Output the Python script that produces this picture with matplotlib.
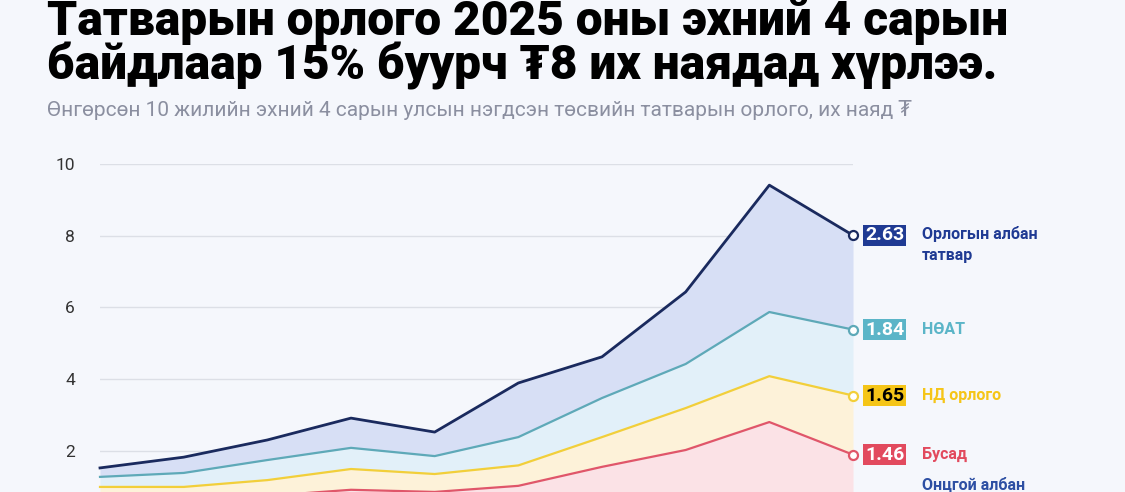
import matplotlib.pyplot as plt
import numpy as np

plt.rcParams['font.family'] = ['Roboto', 'DejaVu Sans']

# их наяд төгрөг, эхний 4 сар
years = np.arange(2016, 2026)
excise = [0.30, 0.30, 0.33, 0.38, 0.35, 0.40, 0.45, 0.50, 0.55, 0.43]
busad = [0.38, 0.38, 0.41, 0.53, 0.50, 0.62, 1.10, 1.52, 2.25, 1.46]
nd_orlogo = [0.31, 0.31, 0.44, 0.58, 0.50, 0.57, 0.83, 1.17, 1.28, 1.65]
noat = [0.28, 0.39, 0.56, 0.59, 0.50, 0.79, 1.09, 1.23, 1.79, 1.84]
orlogyn = [0.25, 0.44, 0.56, 0.83, 0.67, 1.51, 1.15, 2.01, 3.54, 2.63]

layers = [
    ('Онцгой албан', excise, '#2d4fa3', '#e6ebf8', '#2d4fa3'),
    ('Бусад', busad, '#e0566a', '#fbe2e6', '#e24a5e'),
    ('НД орлого', nd_orlogo, '#f2cf3a', '#fdf2d9', '#f5c518'),
    ('НӨАТ', noat, '#5ea9b8', '#e2f0f9', '#5bb5c8'),
    ('Орлогын албан\nтатвар', orlogyn, '#1a2a5e', '#d7dff5', '#1f3a93'),
]

bg = '#f5f7fc'
fig = plt.figure(figsize=(11.25, 4.92), dpi=100, facecolor=bg)
ax = fig.add_axes([100 / 1125, -30.4 / 492, 753 / 1125, 358.4 / 492])
ax.set_facecolor(bg)

base = np.zeros(len(years))
for name, vals, lc, fc, bc in layers:
    top = base + np.array(vals)
    ax.fill_between(years, base, top, color=fc, lw=0, zorder=1)
    base = top

base = np.zeros(len(years))
for i, (name, vals, lc, fc, bc) in enumerate(layers):
    top = base + np.array(vals)
    lw = 2.0 if i == 4 else 1.6
    ax.plot(years, top, color=lc, lw=lw, zorder=3, clip_on=False)
    ax.plot(years[-1], top[-1], 'o', ms=6.5, mfc='white', mec=lc, mew=1.6,
            zorder=4, clip_on=False)
    ytxt = top[-1] if i > 0 else 1.05
    if i > 0:
        tcol = 'black' if i == 2 else 'white'
        ax.annotate('%.2f' % vals[-1], xy=(years[-1], ytxt), xytext=(12, 0),
                    textcoords='offset pixels', ha='left', va='center',
                    fontsize=14, fontweight='bold', color=tcol,
                    bbox=dict(boxstyle='square,pad=0.08', fc=bc, ec='none'),
                    annotation_clip=False, zorder=5)
    va = 'top' if i == 4 else 'center'
    off = 9 if i == 4 else 0
    ax.annotate(name, xy=(years[-1], ytxt), xytext=(69, off),
                textcoords='offset pixels', ha='left', va=va,
                fontsize=11.5, fontweight='bold', color=bc, linespacing=1.45,
                annotation_clip=False, zorder=5)
    base = top

ax.set_xlim(2016, 2025)
ax.set_ylim(0, 10)
ax.set_yticks([2, 4, 6, 8, 10])
ax.set_xticks([])
ax.grid(axis='y', color='#dcdfe6', lw=1)
ax.set_axisbelow(True)
for s in ax.spines.values():
    s.set_visible(False)
ax.tick_params(axis='y', length=0, pad=18, labelsize=12.5, labelcolor='#333333')

fig.text(47 / 1125, 1 - 35 / 492, 'Татварын орлого 2025 оны эхний 4 сарын',
         fontsize=34.5, fontweight='black', color='black', va='baseline')
fig.text(47 / 1125, 1 - 79 / 492, 'байдлаар 15% буурч ₮8 их наядад хүрлээ.',
         fontsize=34.5, fontweight='black', color='black', va='baseline')
fig.text(47 / 1125, 1 - 116 / 492,
         'Өнгөрсөн 10 жилийн эхний 4 сарын улсын нэгдсэн төсвийн татварын орлого, их наяд ₮',
         fontsize=15, color='#8b8fa0', va='baseline')

fig.savefig('out.png', dpi=100, facecolor=bg)
